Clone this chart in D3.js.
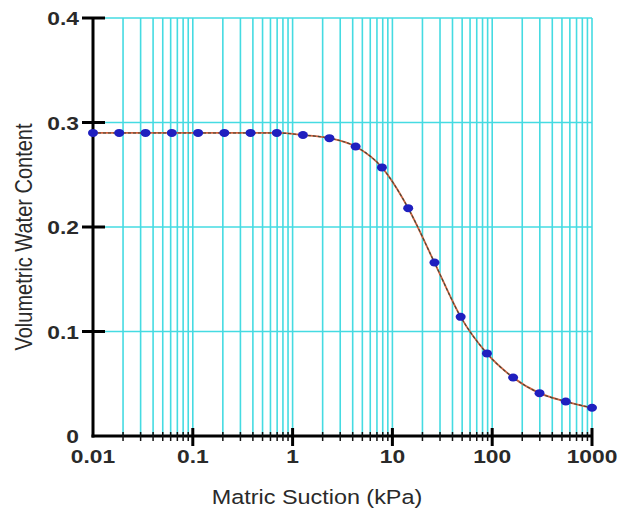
<!DOCTYPE html>
<html>
<head>
<meta charset="utf-8">
<script src="https://cdn.jsdelivr.net/npm/d3@7"></script>
<style>
  html, body { margin: 0; padding: 0; background: #fff; }
  svg { display: block; }
  text { font-family: "Liberation Sans", Arial, sans-serif; fill: #2a2a2a; }
</style>
</head>
<body>
<svg id="chart" width="630" height="511"></svg>
<script>
// Data
const suction = [0.01, 0.0183, 0.0336, 0.0616, 0.113, 0.207, 0.379, 0.695, 1.27, 2.34,
                 4.28, 7.85, 14.4, 26.4, 48.3, 88.6, 162, 298, 546, 1000];
const waterContent = [0.290, 0.290, 0.290, 0.290, 0.290, 0.290, 0.290, 0.290, 0.288, 0.285,
                      0.277, 0.257, 0.218, 0.166, 0.114, 0.079, 0.056, 0.041, 0.033, 0.027];
const xTickValues = [0.01, 0.1, 1, 10, 100, 1000];
const xTickLabels = ["0.01", "0.1", "1", "10", "100", "1000"];
const yTickValues = [0, 0.1, 0.2, 0.3, 0.4];
const yTickLabels = ["0", "0.1", "0.2", "0.3", "0.4"];
const xTitle = "Matric Suction (kPa)";
const yTitle = "Volumetric Water Content";

(function () {
const svg = d3.select("#chart");
const pLeft = 93, pRight = 592, pTop = 18, pBottom = 436;
const sx = 1.2; // horizontal stretch of the original image

const x = d3.scaleLog().domain([0.01, 1000]).range([pLeft, pRight]);
const y = d3.scaleLinear().domain([0, 0.4]).range([pBottom, pTop]);

// minor values for grid / ticks
const minorVals = [];
for (let d = 0.01; d < 1000; d *= 10) {
  for (let k = 2; k <= 9; k++) minorVals.push(+(d * k).toPrecision(3));
}
const gridColor = "#45dbe2";

// vertical grid
svg.append("g").selectAll("line").data(minorVals.concat(xTickValues.slice(1)))
  .join("line")
  .attr("x1", d => x(d)).attr("x2", d => x(d))
  .attr("y1", pTop).attr("y2", pBottom)
  .attr("stroke", gridColor).attr("stroke-width", 1.6);

// horizontal grid
svg.append("g").selectAll("line").data(yTickValues.slice(1))
  .join("line")
  .attr("x1", pLeft).attr("x2", pRight)
  .attr("y1", d => y(d)).attr("y2", d => y(d))
  .attr("stroke", gridColor).attr("stroke-width", 1.6);

// axes lines
svg.append("line").attr("x1", pLeft).attr("x2", pLeft).attr("y1", pTop).attr("y2", pBottom + 1.5)
  .attr("stroke", "#000").attr("stroke-width", 3);
svg.append("line").attr("x1", pLeft - 1.5).attr("x2", pRight).attr("y1", pBottom).attr("y2", pBottom)
  .attr("stroke", "#000").attr("stroke-width", 3);

// x minor ticks
svg.append("g").selectAll("line").data(minorVals).join("line")
  .attr("x1", d => x(d)).attr("x2", d => x(d))
  .attr("y1", pBottom - 4).attr("y2", pBottom + 5)
  .attr("stroke", "#111").attr("stroke-width", 1.5);
// x major ticks
svg.append("g").selectAll("line").data(xTickValues.slice(1)).join("line")
  .attr("x1", d => x(d)).attr("x2", d => x(d))
  .attr("y1", pBottom - 8).attr("y2", pBottom + 10)
  .attr("stroke", "#000").attr("stroke-width", 3);
// y major ticks
svg.append("g").selectAll("line").data(yTickValues.slice(1)).join("line")
  .attr("x1", pLeft - 11).attr("x2", pLeft + 12)
  .attr("y1", d => y(d)).attr("y2", d => y(d))
  .attr("stroke", "#000").attr("stroke-width", 3);

// curve
const pts = suction.map((s, i) => [x(s), y(waterContent[i])]);
const line = d3.line().curve(d3.curveMonotoneX);
svg.append("path").attr("d", line(pts)).attr("fill", "none")
  .attr("stroke", "#d2613e").attr("stroke-width", 1.8);
svg.append("path").attr("d", line(pts)).attr("fill", "none")
  .attr("stroke", "#3d4a3a").attr("stroke-width", 1.1).attr("stroke-dasharray", "3,2");

// points
svg.append("g").selectAll("ellipse").data(pts).join("ellipse")
  .attr("cx", d => d[0]).attr("cy", d => d[1])
  .attr("rx", 5).attr("ry", 4)
  .attr("fill", "#1f1fbf");

// tick labels
const xl = svg.append("g").selectAll("g").data(xTickValues).join("g")
  .attr("transform", d => `translate(${x(d)},463) scale(${sx},1)`);
xl.append("text").attr("text-anchor", "middle").attr("font-size", 19)
  .attr("font-weight", "bold").text((d, i) => xTickLabels[i]);

const yl = svg.append("g").selectAll("g").data(yTickValues).join("g")
  .attr("transform", d => `translate(79,${y(d) + 7}) scale(${sx},1)`);
yl.append("text").attr("text-anchor", "end").attr("font-size", 19)
  .attr("font-weight", "bold").text((d, i) => yTickLabels[i]);

// titles
svg.append("g").attr("transform", `translate(317,504) scale(${sx},1)`)
  .append("text").attr("text-anchor", "middle").attr("font-size", 19.5).text(xTitle);
svg.append("g").attr("transform", `translate(32,237) scale(${sx},1) rotate(-90)`)
  .append("text").attr("text-anchor", "middle").attr("font-size", 20).text(yTitle);
})();
</script>
</body>
</html>
